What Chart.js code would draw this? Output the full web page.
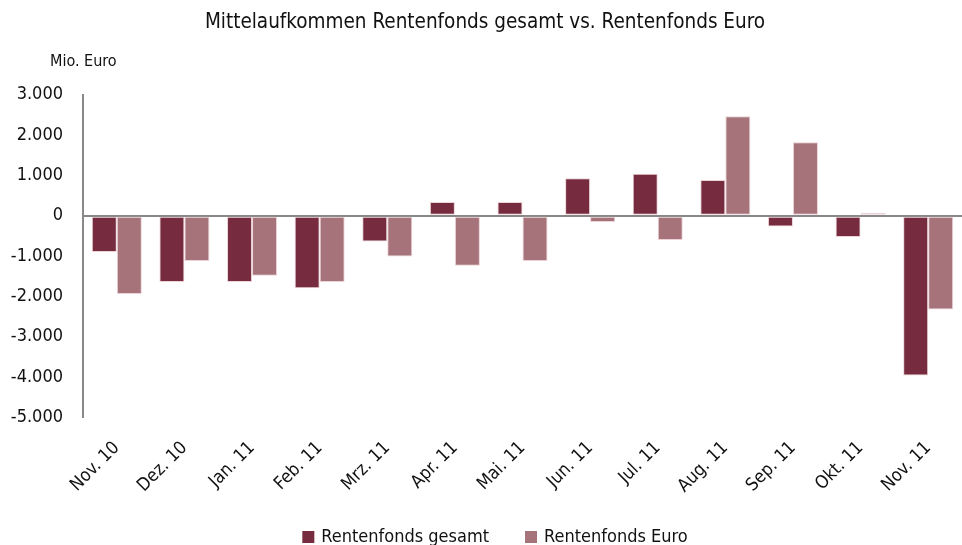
<!DOCTYPE html>
<html>
<head>
<meta charset="utf-8">
<script src="https://cdn.jsdelivr.net/npm/chart.js@4/dist/chart.umd.min.js"></script>
<style>
  html, body { margin: 0; padding: 0; background: #fff; }
  #wrap { width: 962px; height: 545px; }
</style>
</head>
<body>
<div id="wrap"><canvas id="chart"></canvas></div>
<script>
const months = ["Nov. 10", "Dez. 10", "Jan. 11", "Feb. 11", "Mrz. 11", "Apr. 11", "Mai. 11",
                "Jun. 11", "Jul. 11", "Aug. 11", "Sep. 11", "Okt. 11", "Nov. 11"];
const gesamt = [-900, -1645, -1645, -1795, -640, 340, 340, 925, 1040, 885, -265, -530, -3960];
const euro = [-1940, -1125, -1490, -1645, -1010, -1240, -1125, -155, -605, 2465, 1820, 75, -2325];
const yMin = -5000, yMax = 3000, yStep = 1000;

const font = "'Liberation Sans Narrow', 'DejaVu Sans Condensed', 'Open Sans', sans-serif";

// kleine Hilfsfunktion fuer 3.000 statt 3,000
function fmt(v) {
  const s = Math.abs(v).toString().replace(/\B(?=(\d{3})+(?!\d))/g, ".");
  return (v < 0 ? "-" : "") + s;
}

// "Mio. Euro" ueber der Achse
const unitLabel = {
  id: "unitLabel",
  afterDraw(chart) {
    const ctx = chart.ctx;
    ctx.save();
    ctx.font = "16px " + font;
    ctx.fillStyle = "#111";
    ctx.textBaseline = "middle";
    ctx.fillText("Mio. Euro", 50, 62);
    ctx.restore();
  }
};

// Legende unten, mit grosserem Abstand zwischen den Eintraegen als Chart.js es erlaubt
const bottomLegend = {
  id: "bottomLegend",
  afterDraw(chart) {
    const ctx = chart.ctx;
    const box = 12, gap = 7, itemGap = 36;
    ctx.save();
    ctx.font = "18px " + font;
    ctx.textBaseline = "middle";
    const items = chart.data.datasets.map((ds) => ({
      text: ds.label,
      color: ds.backgroundColor,
      w: box + gap + ctx.measureText(ds.label).width
    }));
    const total = items.reduce((a, it) => a + it.w, 0) + itemGap * (items.length - 1);
    let x = 495 - total / 2;
    const y = 537;
    items.forEach((it) => {
      ctx.fillStyle = it.color;
      ctx.fillRect(x, y - box / 2, box, box);
      ctx.fillStyle = "#111";
      ctx.fillText(it.text, x + box + gap, y);
      x += it.w + itemGap;
    });
    ctx.restore();
  }
};

new Chart(document.getElementById("chart"), {
  type: "bar",
  data: {
    labels: months,
    datasets: [
      {
        label: "Rentenfonds gesamt",
        data: gesamt,
        backgroundColor: "#772b3f",
        borderColor: "#ecd3d7",
        borderWidth: 1,
        borderSkipped: false
      },
      {
        label: "Rentenfonds Euro",
        data: euro,
        backgroundColor: "#a6737a",
        borderColor: "#ecd3d7",
        borderWidth: 1,
        borderSkipped: false
      }
    ]
  },
  options: {
    responsive: true,
    maintainAspectRatio: false,
    animation: false,
    categoryPercentage: 0.74,
    barPercentage: 1.0,
    layout: { padding: { left: 8, right: 0, top: 6, bottom: 36 } },
    scales: {
      x: {
        grid: { display: false },
        border: { display: false },
        afterFit: (s) => { s.paddingLeft = 0; s.paddingRight = 0; },
        ticks: {
          minRotation: 45,
          maxRotation: 45,
          color: "#111",
          font: { family: font, size: 18 },
          padding: 12
        }
      },
      y: {
        min: yMin,
        max: yMax,
        afterFit: (s) => { s.width = 75; },
        border: { display: true, color: "#888", width: 2 },
        grid: {
          drawTicks: false,
          color: (c) => (c.tick && c.tick.value === 0 ? "#888" : "rgba(0,0,0,0)"),
          lineWidth: (c) => (c.tick && c.tick.value === 0 ? 2 : 0)
        },
        ticks: {
          stepSize: yStep,
          color: "#111",
          padding: 20,
          font: { family: font, size: 18 },
          callback: (v) => fmt(v)
        }
      }
    },
    plugins: {
      title: {
        display: true,
        text: "Mittelaufkommen Rentenfonds gesamt vs. Rentenfonds Euro",
        color: "#111",
        font: { family: font, size: 20.5, weight: "normal" },
        padding: { top: 4, bottom: 60 }
      },
      legend: { display: false },
      tooltip: { enabled: false }
    }
  },
  plugins: [unitLabel, bottomLegend]
});
</script>
</body>
</html>
